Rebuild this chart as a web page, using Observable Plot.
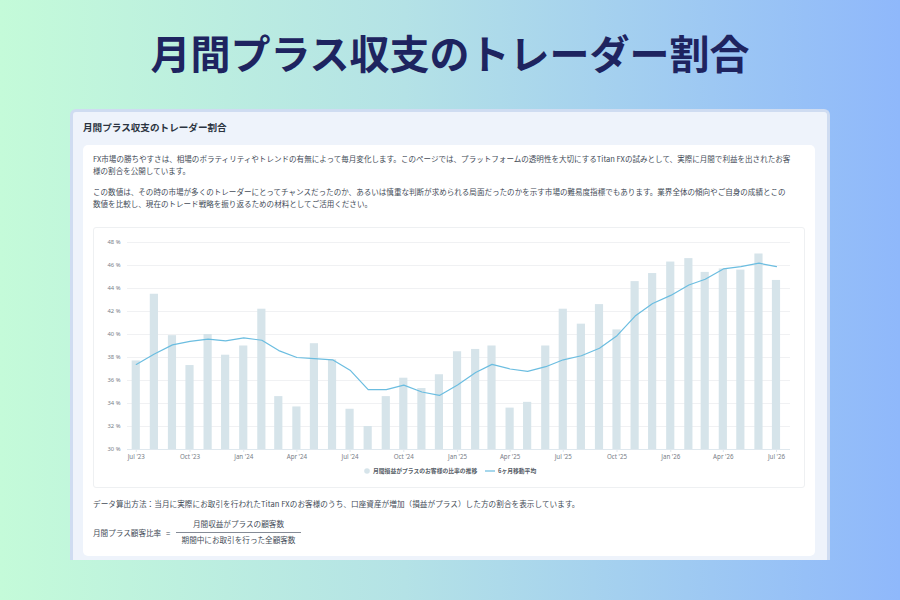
<!DOCTYPE html>
<html lang="ja"><head><meta charset="utf-8">
<script src="https://cdn.jsdelivr.net/npm/d3@7"></script>
<script src="https://cdn.jsdelivr.net/npm/@observablehq/plot@0.6"></script>
<style>
html,body{margin:0;padding:0}
body{width:900px;height:600px;overflow:hidden;position:relative;background:linear-gradient(90deg,#c4fbd9 0%,#b4e2e6 45%,#8fb8fb 100%);font-family:"Noto Sans CJK JP","Noto Sans",sans-serif}
h1{position:absolute;left:0;top:23px;width:900px;margin:0;text-align:center;font-size:40px;line-height:58px;font-weight:700;color:#1e2460;letter-spacing:0}
#outer{position:absolute;left:70px;top:109px;width:760px;height:451px;box-sizing:border-box;background:#eef3fb;border:3px solid #cfdcf1;border-bottom:none;border-radius:6px 6px 0 0}
#heading{position:absolute;left:83px;top:120px;font-size:9.6px;line-height:14px;font-weight:700;color:#2b3340}
#inner{position:absolute;left:83px;top:145px;width:732px;height:411px;background:#fff;border-radius:5px}
.p{position:absolute;left:93px;width:710px;font-size:7.55px;line-height:12px;color:#444c58;white-space:nowrap}
#panel{position:absolute;left:93px;top:227px;width:712px;height:261px;box-sizing:border-box;border:1px solid #eef0f2;border-radius:3px;background:#fff}
#chart{position:absolute;left:93px;top:227px}
#chart svg{display:block;background:transparent}
.lg{position:absolute;top:467px;font-size:5.8px;line-height:8px;font-weight:700;color:#555c66;white-space:nowrap}
.f{position:absolute;font-size:7.6px;line-height:12px;color:#444c58;white-space:nowrap}
</style></head><body>
<h1>月間プラス収支のトレーダー割合</h1>
<div id="outer"></div>
<div id="heading">月間プラス収支のトレーダー割合</div>
<div id="inner"></div>
<div class="p" style="top:153px">FX市場の勝ちやすさは、相場のボラティリティやトレンドの有無によって毎月変化します。このページでは、プラットフォームの透明性を大切にするTitan FXの試みとして、実際に月間で利益を出されたお客<br>様の割合を公開しています。</div>
<div class="p" style="top:186px">この数値は、その時の市場が多くのトレーダーにとってチャンスだったのか、あるいは慎重な判断が求められる局面だったのかを示す市場の難易度指標でもあります。業界全体の傾向やご自身の成績とこの<br>数値を比較し、現在のトレード戦略を振り返るための材料としてご活用ください。</div>
<div id="panel"></div>
<div id="chart"></div>
<svg style="position:absolute;left:363px;top:467px" width="8" height="8"><circle cx="4" cy="4" r="2.8" fill="#d6e4ea"/></svg>
<div class="lg" style="left:373px">月間損益がプラスのお客様の比率の推移</div>
<svg style="position:absolute;left:485px;top:467px" width="11" height="8"><line x1="0" x2="10" y1="4" y2="4" stroke="#6bbde0" stroke-width="1.2"/></svg>
<div class="lg" style="left:498px">6ヶ月移動平均</div>
<div class="f" style="left:93px;top:498px;letter-spacing:.06px">データ算出方法：当月に実際にお取引を行われたTitan FXのお客様のうち、口座資産が増加（損益がプラス）した方の割合を表示しています。</div>
<div class="f" style="left:93px;top:527px">月間プラス顧客比率</div>
<div class="f" style="left:166px;top:527px">=</div>
<div class="f" style="left:176px;top:518px;width:125px;text-align:center">月間収益がプラスの顧客数</div>
<div style="position:absolute;left:176px;top:532px;width:125px;height:1px;background:#858b96"></div>
<div class="f" style="left:176px;top:534px;width:125px;text-align:center">期間中にお取引を行った全顧客数</div>
<script>
const months = ["2023-07","2023-08","2023-09","2023-10","2023-11","2023-12","2024-01","2024-02","2024-03","2024-04","2024-05","2024-06","2024-07","2024-08","2024-09","2024-10","2024-11","2024-12","2025-01","2025-02","2025-03","2025-04","2025-05","2025-06","2025-07","2025-08","2025-09","2025-10","2025-11","2025-12","2026-01","2026-02","2026-03","2026-04","2026-05","2026-06","2026-07"];
const ratio = [37.7,43.5,39.9,37.3,40.0,38.2,39.0,42.2,34.6,33.7,39.2,37.8,33.5,32.0,34.6,36.2,35.3,36.5,38.5,38.7,39.0,33.6,34.1,39.0,42.2,40.9,42.6,40.4,44.6,45.3,46.3,46.6,45.4,45.7,45.6,47.0,44.7];
const average = [37.4,38.3,39.1,39.4,39.6,39.45,39.7,39.5,38.6,38.0,37.9,37.8,36.9,35.2,35.2,35.6,35.0,34.7,35.6,36.7,37.4,37.0,36.8,37.2,37.8,38.15,38.8,39.9,41.6,42.7,43.4,44.3,44.8,45.7,45.9,46.2,45.9];
const yTicks = [30,32,34,36,38,40,42,44,46,48];
const xTickMonths = ["2023-07","2023-10","2024-01","2024-04","2024-07","2024-10","2025-01","2025-04","2025-07","2025-10","2026-01","2026-04","2026-07"];

const parse = d3.utcParse("%Y-%m");
const fmt = d3.utcFormat("%b '%y");
const rows = months.map((m,i)=>({date:parse(m),ratio:ratio[i],average:average[i]}));

const plot = Plot.plot({
  width:712,height:261,
  marginLeft:34,marginRight:15,marginTop:15,marginBottom:39,
  style:{background:"transparent",fontFamily:"'Noto Sans','Noto Sans CJK JP',sans-serif"},
  x:{type:"utc",domain:[new Date("2023-06-16"),new Date("2026-07-25")]},
  y:{domain:[30,48]},
  marks:[
    Plot.ruleY(yTicks.slice(1),{stroke:"#f0f1f3",strokeWidth:1}),
    Plot.rectY(rows,{x1:d=>d3.utcDay.offset(d.date,-7),x2:d=>d3.utcDay.offset(d.date,7),y1:30,y2:"ratio",fill:"#d6e4ea"}),
    Plot.ruleY([30],{stroke:"#dfe8ee",strokeWidth:1}),
    Plot.line(rows,{x:"date",y:"average",stroke:"#6bbde0",strokeWidth:1.2}),
    Plot.axisY({ticks:yTicks,tickSize:0,tickPadding:7,tickFormat:d=>`${d} %`,label:null,fontSize:5.8,color:"#777d86"}),
    Plot.axisX({ticks:xTickMonths.map(parse),tickSize:3,tickPadding:2,tickFormat:fmt,label:null,fontSize:6.2,color:"#777d86",stroke:"#dfe8ee"})
  ]
});
document.getElementById("chart").append(plot);
</script>
</body></html>
